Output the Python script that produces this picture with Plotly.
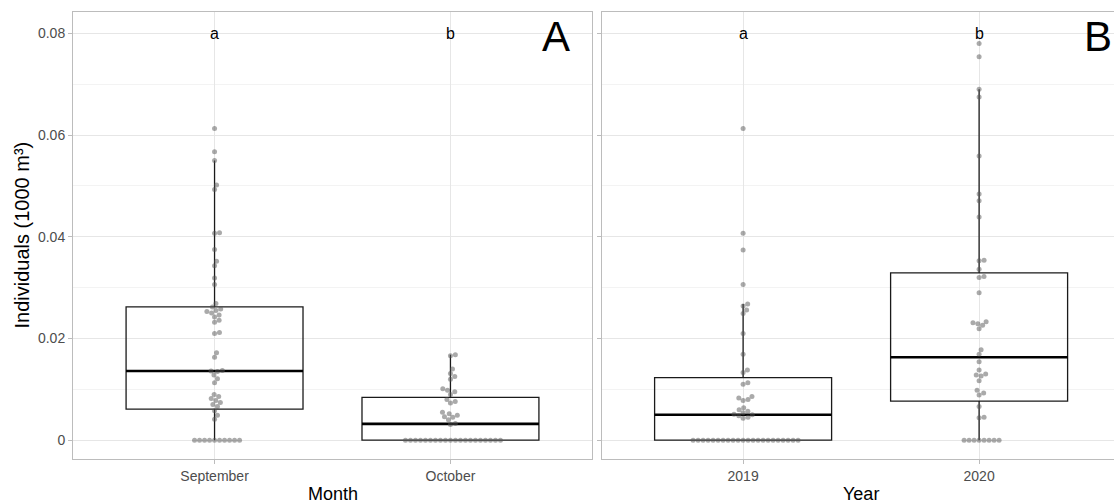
import math
import plotly.graph_objects as go

# ---------------- data ----------------
month_categories = ["September", "October"]
year_categories = ["2019", "2020"]
y_tick_values = [0, 0.02, 0.04, 0.06, 0.08]
y_tick_labels = ["0", "0.02", "0.04", "0.06", "0.08"]
y_minor_ticks = [0.01, 0.03, 0.05, 0.07]

september = [0.0613, 0.0567, 0.0550, 0.0502, 0.0493, 0.0407, 0.0408, 0.0375, 0.0352,
             0.0343, 0.0319, 0.0306, 0.0269, 0.0262, 0.0258, 0.0255, 0.0253, 0.0250,
             0.0246, 0.0242, 0.0236, 0.0232, 0.0212, 0.0210, 0.0172, 0.0163, 0.0137,
             0.0136, 0.0135, 0.0128, 0.0121, 0.0113, 0.0090, 0.0086, 0.0082, 0.0078,
             0.0074, 0.0070, 0.0066, 0.0058, 0.0049, 0.0041,
             0, 0, 0, 0, 0, 0, 0, 0, 0, 0]
october = [0.0168, 0.0166, 0.0140, 0.0131, 0.0125, 0.0120, 0.0101, 0.0098, 0.0095,
           0.0090, 0.0080, 0.0076, 0.0073, 0.0055, 0.0052, 0.0049, 0.0046, 0.0045,
           0.0040, 0.0033, 0.0031,
           0, 0, 0, 0, 0, 0, 0, 0, 0, 0, 0, 0, 0, 0, 0, 0, 0, 0, 0, 0]
year_2019 = [0.0613, 0.0407, 0.0374, 0.0306, 0.0268, 0.0264, 0.0256, 0.0249, 0.0210,
             0.0169, 0.0138, 0.0133, 0.0113, 0.0110, 0.0086, 0.0083, 0.0080, 0.0078,
             0.0064, 0.0060, 0.0057, 0.0054, 0.0051, 0.0050, 0.0048, 0.0045, 0.0043,
             0, 0, 0, 0, 0, 0, 0, 0, 0, 0, 0, 0, 0, 0, 0, 0, 0, 0, 0, 0, 0, 0]
year_2020 = [0.0780, 0.0754, 0.0690, 0.0675, 0.0559, 0.0484, 0.0471, 0.0439, 0.0354,
             0.0353, 0.0336, 0.0322, 0.0320, 0.0290, 0.0233, 0.0231, 0.0229, 0.0226,
             0.0219, 0.0178, 0.0169, 0.0154, 0.0138, 0.0130, 0.0128, 0.0126, 0.0117,
             0.0098, 0.0093, 0.0089, 0.0066, 0.0045, 0.0044,
             0, 0, 0, 0, 0, 0, 0, 0]

# box statistics
month_q1 = [0.0061, 0.0]
month_median = [0.0136, 0.0032]
month_q3 = [0.0262, 0.0084]
month_lower = [0.0, 0.0]
month_upper = [0.0550, 0.0168]

year_q1 = [0.0, 0.0077]
year_median = [0.0050, 0.0163]
year_q3 = [0.0123, 0.0329]
year_lower = [0.0, 0.0]
year_upper = [0.0268, 0.0690]

month_letters = ["a", "b"]
year_letters = ["a", "b"]
letter_height = 0.08

# ---------------- layout constants ----------------
W, H = 1114, 504
ML, MR, MT, MB = 73, 0, 12, 45
PW = W - ML - MR
PH = H - MT - MB
X_PX_PER_UNIT = 236.0
Y_RANGE = [-0.0037, 0.0842]
Y_PX_PER_UNIT = PH / (Y_RANGE[1] - Y_RANGE[0])
BOX_W = 0.75
DOT = 5.0
FONT = "Liberation Sans, Arial, sans-serif"


def swarm(vals, d=DOT):
    order = sorted(range(len(vals)), key=lambda i: vals[i])
    placed = []
    offs = [0.0] * len(vals)
    for i in order:
        y = vals[i] * Y_PX_PER_UNIT
        near = [(px, py) for px, py in placed if abs(py - y) < d]
        cands = [0.0]
        for px, py in near:
            dx = math.sqrt(max(d * d - (py - y) ** 2, 0.0))
            cands += [px + dx, px - dx]
        valid = [c for c in cands
                 if all((c - px) ** 2 + (y - py) ** 2 >= d * d - 1e-6 for px, py in near)]
        best = min(valid, key=lambda c: (round(abs(c), 6), c < 0))
        placed.append((best, y))
        offs[i] = best / X_PX_PER_UNIT
    return offs


fig = go.Figure()

panels = [
    ("x", "y", [september, october], month_q1, month_median, month_q3, month_lower, month_upper),
    ("x2", "y2", [year_2019, year_2020], year_q1, year_median, year_q3, year_lower, year_upper),
]

for xa, ya, groups, q1, med, q3, lo, up in panels:
    pos = [1, 2]
    fig.add_trace(go.Box(
        x=pos, q1=q1, median=med, q3=q3, lowerfence=lo, upperfence=up,
        width=BOX_W, boxpoints=False, fillcolor="rgba(255,255,255,0)",
        line=dict(color="#1a1a1a", width=1.3), whiskerwidth=0,
        xaxis=xa, yaxis=ya, hoverinfo="skip", showlegend=False))
    mx, my = [], []
    for p, m in zip(pos, med):
        mx += [p - BOX_W / 2, p + BOX_W / 2, None]
        my += [m, m, None]
    fig.add_trace(go.Scatter(x=mx, y=my, mode="lines",
                             line=dict(color="black", width=2.6),
                             xaxis=xa, yaxis=ya, hoverinfo="skip", showlegend=False))
    for p, vals in zip(pos, groups):
        offs = swarm(vals)
        fig.add_trace(go.Scatter(
            x=[p + o for o in offs], y=vals, mode="markers",
            marker=dict(size=DOT, color="rgba(85,85,85,0.5)", line=dict(width=0)),
            xaxis=xa, yaxis=ya, hoverinfo="skip", showlegend=False))

dom1 = [0, 519 / PW]
dom2 = [528.5 / PW, 1.0]
x2_max = 0.4 + (PW * (1 - dom2[0])) / X_PX_PER_UNIT

axis_common = dict(
    showline=True, mirror=True, linecolor="#bcbcbc", linewidth=1,
    showgrid=True, gridcolor="#e6e6e6", gridwidth=1, zeroline=False,
    ticks="outside", ticklen=4, tickcolor="#bcbcbc", tickwidth=1,
    tickfont=dict(family=FONT, size=14, color="#4d4d4d"),
)

fig.update_layout(
    width=W, height=H,
    margin=dict(l=ML, r=MR, t=MT, b=MB),
    paper_bgcolor="white", plot_bgcolor="white",
    font=dict(family=FONT),
    xaxis=dict(domain=dom1, range=[0.4, 2.6], tickmode="array", tickvals=[1, 2],
               ticktext=month_categories, **axis_common),
    xaxis2=dict(domain=dom2, range=[0.4, x2_max], tickmode="array", tickvals=[1, 2],
                ticktext=year_categories, anchor="y2", **axis_common),
    yaxis=dict(range=Y_RANGE, tickmode="array", tickvals=y_tick_values, ticktext=y_tick_labels,
               minor=dict(tickmode="array", tickvals=y_minor_ticks, showgrid=True,
                          gridcolor="#f3f3f3", ticks=""),
               **axis_common),
    yaxis2=dict(range=Y_RANGE, tickmode="array", tickvals=y_tick_values, showticklabels=False,
                anchor="x2",
                minor=dict(tickmode="array", tickvals=y_minor_ticks, showgrid=True,
                           gridcolor="#f3f3f3", ticks=""),
                **axis_common),
)

ann = []
for i, t in enumerate(month_letters):
    ann.append(dict(x=i + 1, y=letter_height, xref="x", yref="y", text=t, showarrow=False,
                    font=dict(size=16, color="black"), xanchor="center", yanchor="middle"))
for i, t in enumerate(year_letters):
    ann.append(dict(x=i + 1, y=letter_height, xref="x2", yref="y2", text=t, showarrow=False,
                    font=dict(size=16, color="black"), xanchor="center", yanchor="middle"))


def px_x(px):
    return (px - ML) / PW


def px_y(py):
    return (H - MB - py) / PH


ann.append(dict(x=px_x(556), y=px_y(37), xref="paper", yref="paper", text="A", showarrow=False,
                font=dict(size=42, color="black"), xanchor="center", yanchor="middle"))
ann.append(dict(x=px_x(1098), y=px_y(37), xref="paper", yref="paper", text="B", showarrow=False,
                font=dict(size=42, color="black"), xanchor="center", yanchor="middle"))
ann.append(dict(x=1.5, y=px_y(494), xref="x", yref="paper", text="Month", showarrow=False,
                font=dict(size=18, color="black"), xanchor="center", yanchor="middle"))
ann.append(dict(x=1.5, y=px_y(494), xref="x2", yref="paper", text="Year", showarrow=False,
                font=dict(size=18, color="black"), xanchor="center", yanchor="middle"))
ann.append(dict(x=px_x(21), y=0.5, xref="paper", yref="paper", text="Individuals (1000 m³)",
                showarrow=False, textangle=-90,
                font=dict(size=20, color="black"), xanchor="center", yanchor="middle"))
fig.update_layout(annotations=ann)

fig.write_html("out.html")
